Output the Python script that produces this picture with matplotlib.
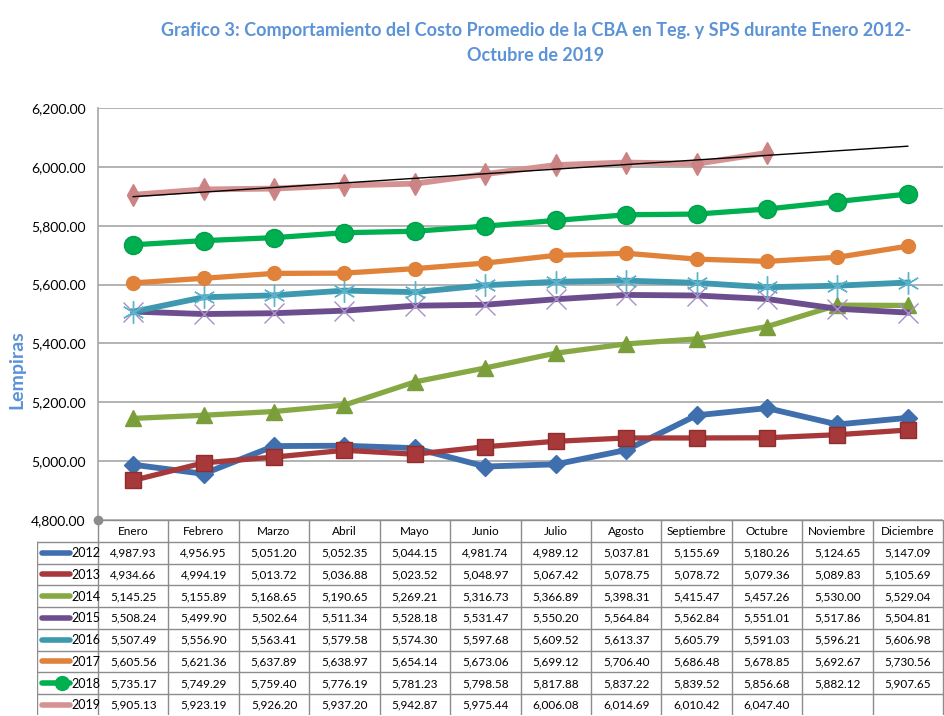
import matplotlib
matplotlib.use("Agg")
import matplotlib.pyplot as plt
import numpy as np

plt.rcParams['font.family'] = ['Lato', 'DejaVu Sans']

# Datos
meses = ['Enero', 'Febrero', 'Marzo', 'Abril', 'Mayo', 'Junio', 'Julio',
         'Agosto', 'Septiembre', 'Octubre', 'Noviembre', 'Diciembre']
anios = ['2012', '2013', '2014', '2015', '2016', '2017', '2018', '2019']

v2012 = [4987.93, 4956.95, 5051.20, 5052.35, 5044.15, 4981.74, 4989.12, 5037.81, 5155.69, 5180.26, 5124.65, 5147.09]
v2013 = [4934.66, 4994.19, 5013.72, 5036.88, 5023.52, 5048.97, 5067.42, 5078.75, 5078.72, 5079.36, 5089.83, 5105.69]
v2014 = [5145.25, 5155.89, 5168.65, 5190.65, 5269.21, 5316.73, 5366.89, 5398.31, 5415.47, 5457.26, 5530.00, 5529.04]
v2015 = [5508.24, 5499.90, 5502.64, 5511.34, 5528.18, 5531.47, 5550.20, 5564.84, 5562.84, 5551.01, 5517.86, 5504.81]
v2016 = [5507.49, 5556.90, 5563.41, 5579.58, 5574.30, 5597.68, 5609.52, 5613.37, 5605.79, 5591.03, 5596.21, 5606.98]
v2017 = [5605.56, 5621.36, 5637.89, 5638.97, 5654.14, 5673.06, 5699.12, 5706.40, 5686.48, 5678.85, 5692.67, 5730.56]
v2018 = [5735.17, 5749.29, 5759.40, 5776.19, 5781.23, 5798.58, 5817.88, 5837.22, 5839.52, 5856.68, 5882.12, 5907.65]
v2019 = [5905.13, 5923.19, 5926.20, 5937.20, 5942.87, 5975.44, 6006.08, 6014.69, 6010.42, 6047.40]

series = [v2012, v2013, v2014, v2015, v2016, v2017, v2018, v2019]

# Estilos
estilos = [
    dict(color='#3F6FAD', marker='D', ms=9, lw=4.2, mfc='#3F6FAD', mec='#3F6FAD'),
    dict(color='#A8393A', marker='s', ms=11, lw=3.8, mfc='#A8393A', mec='#8E2E2E'),
    dict(color='#86A944', marker='^', ms=11, lw=3.8, mfc='#7A9E3A', mec='#7A9E3A'),
    dict(color='#6C4E8E', marker='x', ms=14, lw=4.2, mfc='none', mec='#A98FC8', mew=1.0),
    dict(color='#3D98B0', marker=(6, 2, 0), ms=16, lw=4.2, mfc='none', mec='#5DB3CB', mew=1.0),
    dict(color='#E0823A', marker='o', ms=10, lw=3.8, mfc='#E0823A', mec='#E0823A'),
    dict(color='#00B050', marker='o', ms=13, lw=3.8, mfc='#00B050', mec='#00A04A'),
    dict(color='#D49392', marker='d', ms=11, lw=4.2, mfc='#CC8383', mec='#CC8383'),
]

fig = plt.figure(figsize=(9.44, 7.16), dpi=100)

ax = fig.add_axes([98 / 944, 1 - 520 / 716, 845 / 944, 412 / 716])
x = np.arange(len(meses))

for vals, st in zip(series, estilos):
    ax.plot(x[:len(vals)], vals, zorder=3, **st)

# Linea de tendencia 2019
coef = np.polyfit(x[:len(v2019)], v2019, 1)
ax.plot(x, np.polyval(coef, x), color='black', lw=1.0, zorder=4)

ax.set_xlim(-0.5, 11.5)
ax.set_ylim(4800, 6200)
ax.set_yticks(np.arange(4800, 6201, 200))
ax.set_yticklabels([f'{t:,.2f}' for t in np.arange(4800, 6201, 200)], fontsize=10)
ax.set_xticks([])
ax.tick_params(axis='y', length=0, pad=9)
ax.grid(axis='y', color='#A6A6A6', lw=1.2)
ax.set_axisbelow(True)
for s in ['top', 'right', 'bottom']:
    ax.spines[s].set_visible(False)
ax.spines['left'].set_color('#A6A6A6')
ax.spines['left'].set_linewidth(1.2)
ax.plot([-0.5], [4800], 'o', color='#8C8C8C', ms=6, clip_on=False, zorder=5)

fig.text(17 / 944, 1 - 370 / 716, 'Lempiras', rotation=90, color='#5B93D6',
         fontsize=14, fontweight='bold', ha='center', va='center')

fig.text(536 / 944, 1 - 43 / 716,
         'Grafico 3: Comportamiento del Costo Promedio de la CBA en Teg. y SPS durante Enero 2012-\nOctubre de 2019',
         color='#5B93D6', fontsize=13, fontweight='bold', ha='center', va='center',
         linespacing=1.55)

# Tabla de datos
tx0, tx1 = 37, 944
tax = fig.add_axes([tx0 / 944, 1 - 715 / 716, (tx1 - tx0) / 944, 195 / 716])
tax.set_xlim(tx0, tx1)
tax.set_ylim(715, 520)
tax.axis('off')

col_x0 = 98
col_w = (943 - col_x0) / 12
row_h = 21.75
borde = dict(color='#8C8C8C', lw=1.0)

# encabezado
tax.plot([col_x0, 943], [520, 520], **borde)
for i, m in enumerate(meses):
    tax.text(col_x0 + col_w * (i + 0.5), 520 + row_h / 2 + 1, m, ha='center', va='center', fontsize=8.5)
# lineas horizontales
for r in range(len(anios) + 1):
    y = 520 + row_h * (r + 1)
    tax.plot([tx0, 943], [y, y], **borde)
# lineas verticales
for i in range(13):
    xx = col_x0 + col_w * i
    tax.plot([xx, xx], [520, 520 + row_h * 9], **borde)
tax.plot([tx0, tx0], [520 + row_h, 520 + row_h * 9], **borde)

for r, (anio, vals, st) in enumerate(zip(anios, series, estilos)):
    yc = 520 + row_h * (r + 1.5)
    tax.plot([42, 70], [yc, yc], color=st['color'], lw=4, solid_capstyle='round')
    tax.text(71, yc + 0.5, anio, ha='left', va='center', fontsize=9)
    for i, v in enumerate(vals):
        tax.text(col_x0 + col_w * (i + 0.5), yc + 0.5, f'{v:,.2f}', ha='center', va='center', fontsize=8.5)
tax.plot([62], [520 + row_h * 7.5], 'o', color='#00B050', ms=10)

fig.savefig('out.png', dpi=100)
